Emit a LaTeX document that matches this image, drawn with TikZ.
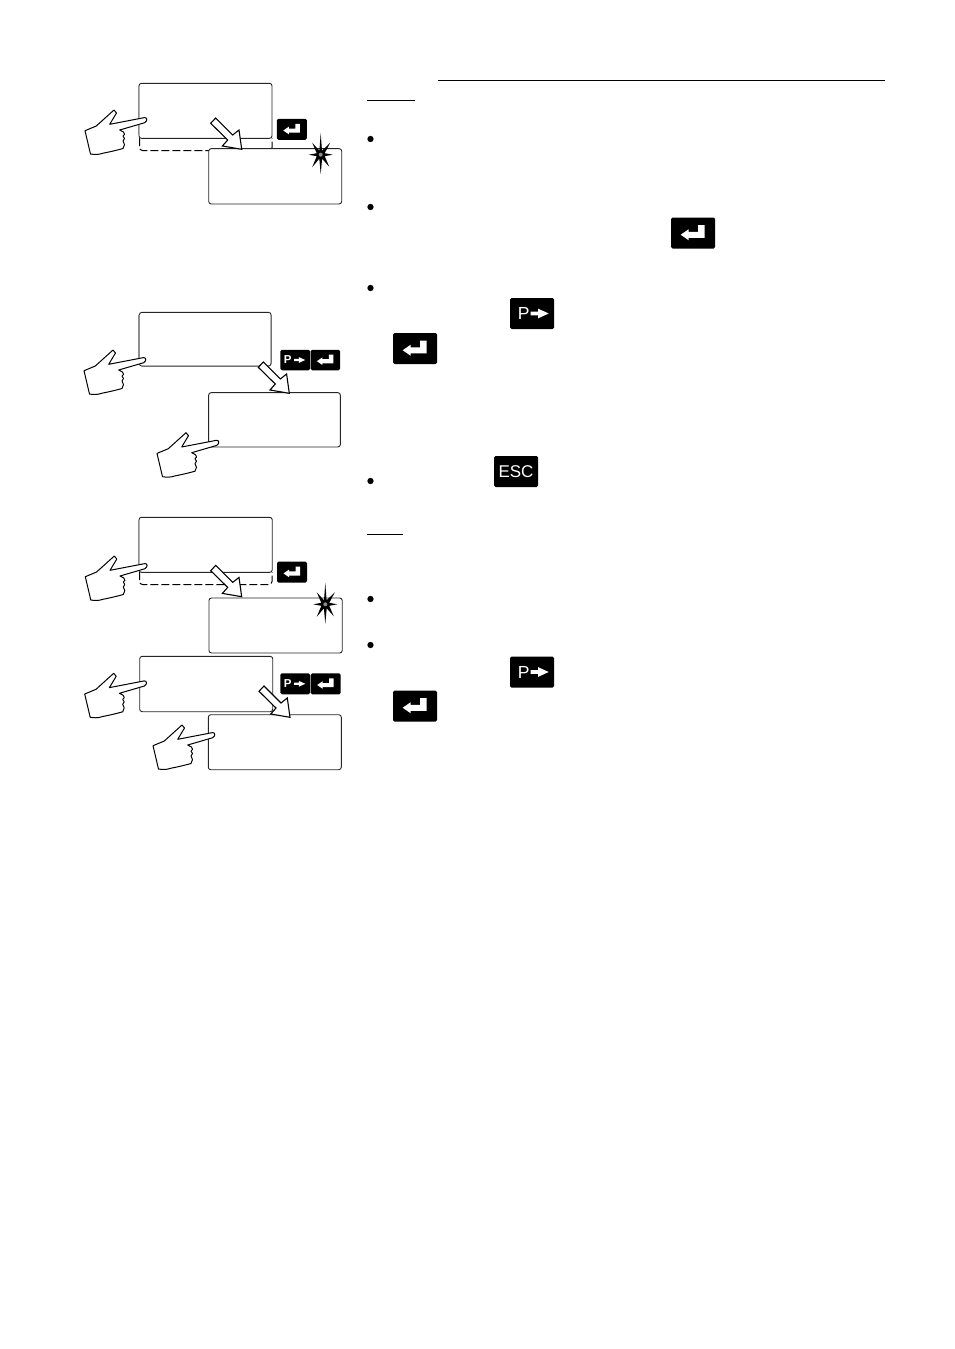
\documentclass[tikz,border=0pt]{standalone}
\usepackage{fontspec}
\setmainfont{Liberation Sans}
\tikzset{
  screen/.style={draw=black!85,line width=0.9pt,fill=white,rounded corners=2.5pt,inner sep=0pt,minimum width=#1},
  screen/.default=133pt,
  keybox/.style={fill=black,rounded corners=1.5pt,inner sep=0pt,text=white},
  dashpart/.style={draw=black,line width=1pt,dash pattern=on 8pt off 3pt,rounded corners=3pt},
  greyedge/.style={draw=black!45,line width=1.3pt},
  bulletdot/.style={circle,fill=black,inner sep=0pt,minimum size=6.3pt},
  rulelike/.style={draw=black,line width=1pt},
  handicon/.pic={
    \draw[fill=white,draw=black,line width=1pt,line join=round]
      (-33,-10) -- (-30.5,-7) -- (-37.3,4.3) -- (-2.5,-2.4) .. controls (0,-2.6) and (1,0.5) .. (-2.3,2.7)
      -- (-27.3,10) -- (-23.5,12) .. controls (-22,14) and (-22,15) .. (-24,16) .. controls (-22,18) and (-22,19) .. (-24,21)
      .. controls (-22,23) and (-22,26) .. (-24,28.5)
      .. controls (-33,31) and (-38,32) .. (-44,33.2) .. controls (-49,35) and (-53,34.5) .. (-56.5,34)
      -- (-62,10.7) -- (-50.7,6) -- cycle;
  },
  blockarrow/.pic={
    \draw[fill=white,draw=black,line width=1.1pt,line join=miter]
      (-31,-26) -- (-26,-31.3) -- (-9,-14.3) -- (-2.7,-19.3) -- (0,0) -- (-19.3,-3.3) -- (-14,-9.3) -- cycle;
  },
  retglyph/.pic={
    \fill[white] (-8.5,1.2) -- (-3,-2.6) -- (-3,-0.8) -- (3.5,-0.8) -- (3.5,-5.5) -- (8,-5.5) -- (8,3.4) -- (-3,3.4) -- (-3,5) -- cycle;
  },
  parrow/.pic={
    \fill[white] (-6,-1.2) -- (-1,-1.2) -- (-1,-3.2) -- (6,0) -- (-1,3.2) -- (-1,1.2) -- (-6,1.2) -- cycle;
  },
  flash/.pic={
    \fill[black] (0,-21.5) -- (1.3,-4) -- (9.5,-12) -- (4,-1.5) -- (12,0)
      -- (4,1.5) -- (8.5,12) -- (1.4,4) -- (0,19.5) -- (-1.4,4) -- (-8.5,12.5) -- (-4,1.5) -- (-12,0) -- (-4,-1.5) -- (-8.5,-12) -- (-1.3,-4) -- cycle;
    \fill[black!45] (0,0) circle (2);
  }
}
\begin{document}
\begin{tikzpicture}[x=1pt,y=-1pt]
\useasboundingbox (0,0) rectangle (954,1349);

% ---- first group
\draw[dashpart] (139.5,138) -- (139.5,150.5) -- (272,150.5) -- (272,138);
\node[screen,minimum height=55pt] (s1) at (205.5,110.8) {};
\draw[greyedge] (s1.north west)++(0,3) -- ++(0,49);
\draw[white,line width=1.1pt] (272,139.5) -- (272,141);
\node[screen,minimum height=55.3pt] (s2) at (275.2,176.3) {};
\pic at (241.7,149.3) {blockarrow};
\pic at (147,120) {handicon};
\node[keybox,minimum width=30pt,minimum height=21pt] (k1) at (291.8,129.3) {};
\pic at (k1) {retglyph};
\pic at (320.7,154.7) {flash};

% ---- second group
\node[screen=131.7pt,minimum height=53.7pt] (s3) at (205.2,339.2) {};
\draw[greyedge] (s3.north west)++(0,3) -- ++(0,47);
\node[screen=131.7pt,minimum height=54.3pt] (s4) at (274.5,419.8) {};
\pic at (289.3,393.3) {blockarrow};
\pic at (146,360) {handicon};
\pic at (219,442.7) {handicon};
\node[keybox,minimum width=29.7pt,minimum height=20.5pt] (k2) at (295.2,360) {};
\node[text=white,font=\bfseries\fontsize{11.5}{11.5}\selectfont,inner sep=0pt] (k2p) at (287.7,360) {P};
\pic[scale=0.92] at (299.7,360) {parrow};
\node[keybox,minimum width=29.5pt,minimum height=20.5pt] (k3) at (325.4,360) {};
\pic at (k3) {retglyph};

% ---- third group
\draw[dashpart] (139.5,572) -- (139.5,584.5) -- (272,584.5) -- (272,572);
\node[screen=133.3pt,minimum height=55pt] (s5) at (205.6,544.8) {};
\draw[greyedge] (s5.north west)++(0,3) -- ++(0,49);
\node[screen=133.3pt,minimum height=55pt] (s6) at (275.6,625.5) {};
\pic at (241.7,596.7) {blockarrow};
\pic at (147.3,566) {handicon};
\node[keybox,minimum width=30pt,minimum height=21pt] (k4) at (292,572.2) {};
\pic at (k4) {retglyph};
\pic at (325.3,604.3) {flash};

\node[screen,minimum height=55.4pt] (s7) at (206.2,684) {};
\node[screen,minimum height=55pt] (s8) at (274.8,742.2) {};
\pic at (290,717.3) {blockarrow};
\pic at (146.7,683.3) {handicon};
\pic at (215,735) {handicon};
\node[keybox,minimum width=29.7pt,minimum height=21pt] (k5) at (295.2,683.8) {};
\node[text=white,font=\bfseries\fontsize{11.5}{11.5}\selectfont,inner sep=0pt] (k5p) at (287.7,683.8) {P};
\pic[scale=0.92] at (299.7,683.8) {parrow};
\node[keybox,minimum width=30pt,minimum height=21pt] (k6) at (325.7,683.8) {};
\pic at (k6) {retglyph};

% ---- right column
\draw[rulelike] (438,80.5) -- (885,80.5);
\draw[rulelike] (367,100.5) -- (415,100.5);
\draw[rulelike] (367,534.5) -- (403,534.5);
\node[bulletdot] (b1) at (370.5,139) {};
\node[bulletdot] (b2) at (370.5,207) {};
\node[bulletdot] (b3) at (370.5,288) {};
\node[bulletdot] (b4) at (370.5,481) {};
\node[bulletdot] (b5) at (370.5,599) {};
\node[bulletdot] (b6) at (370.5,645) {};

\node[keybox,minimum width=44pt,minimum height=31pt] (e1) at (693,233) {};
\pic[scale=1.45] at (e1) {retglyph};
\node[keybox,minimum width=44pt,minimum height=31pt] (p1) at (532,313.5) {};
\node[text=white,font=\fontsize{17.5}{17.5}\selectfont,inner sep=0pt] (p1t) at (523.8,313.5) {P};
\pic[scale=1.5] at (539.7,313.5) {parrow};
\node[keybox,minimum width=44pt,minimum height=31pt] (e2) at (415,348.5) {};
\pic[scale=1.45] at (e2) {retglyph};
\node[keybox,minimum width=44pt,minimum height=31pt,font=\fontsize{17}{17}\selectfont] (esc) at (516,471.5) {ESC};
\node[keybox,minimum width=44pt,minimum height=31pt] (p2) at (532,672) {};
\node[text=white,font=\fontsize{17.5}{17.5}\selectfont,inner sep=0pt] (p2t) at (523.8,672) {P};
\pic[scale=1.5] at (539.7,672) {parrow};
\node[keybox,minimum width=44pt,minimum height=31pt] (e3) at (415,706) {};
\pic[scale=1.45] at (e3) {retglyph};
\end{tikzpicture}
\end{document}
